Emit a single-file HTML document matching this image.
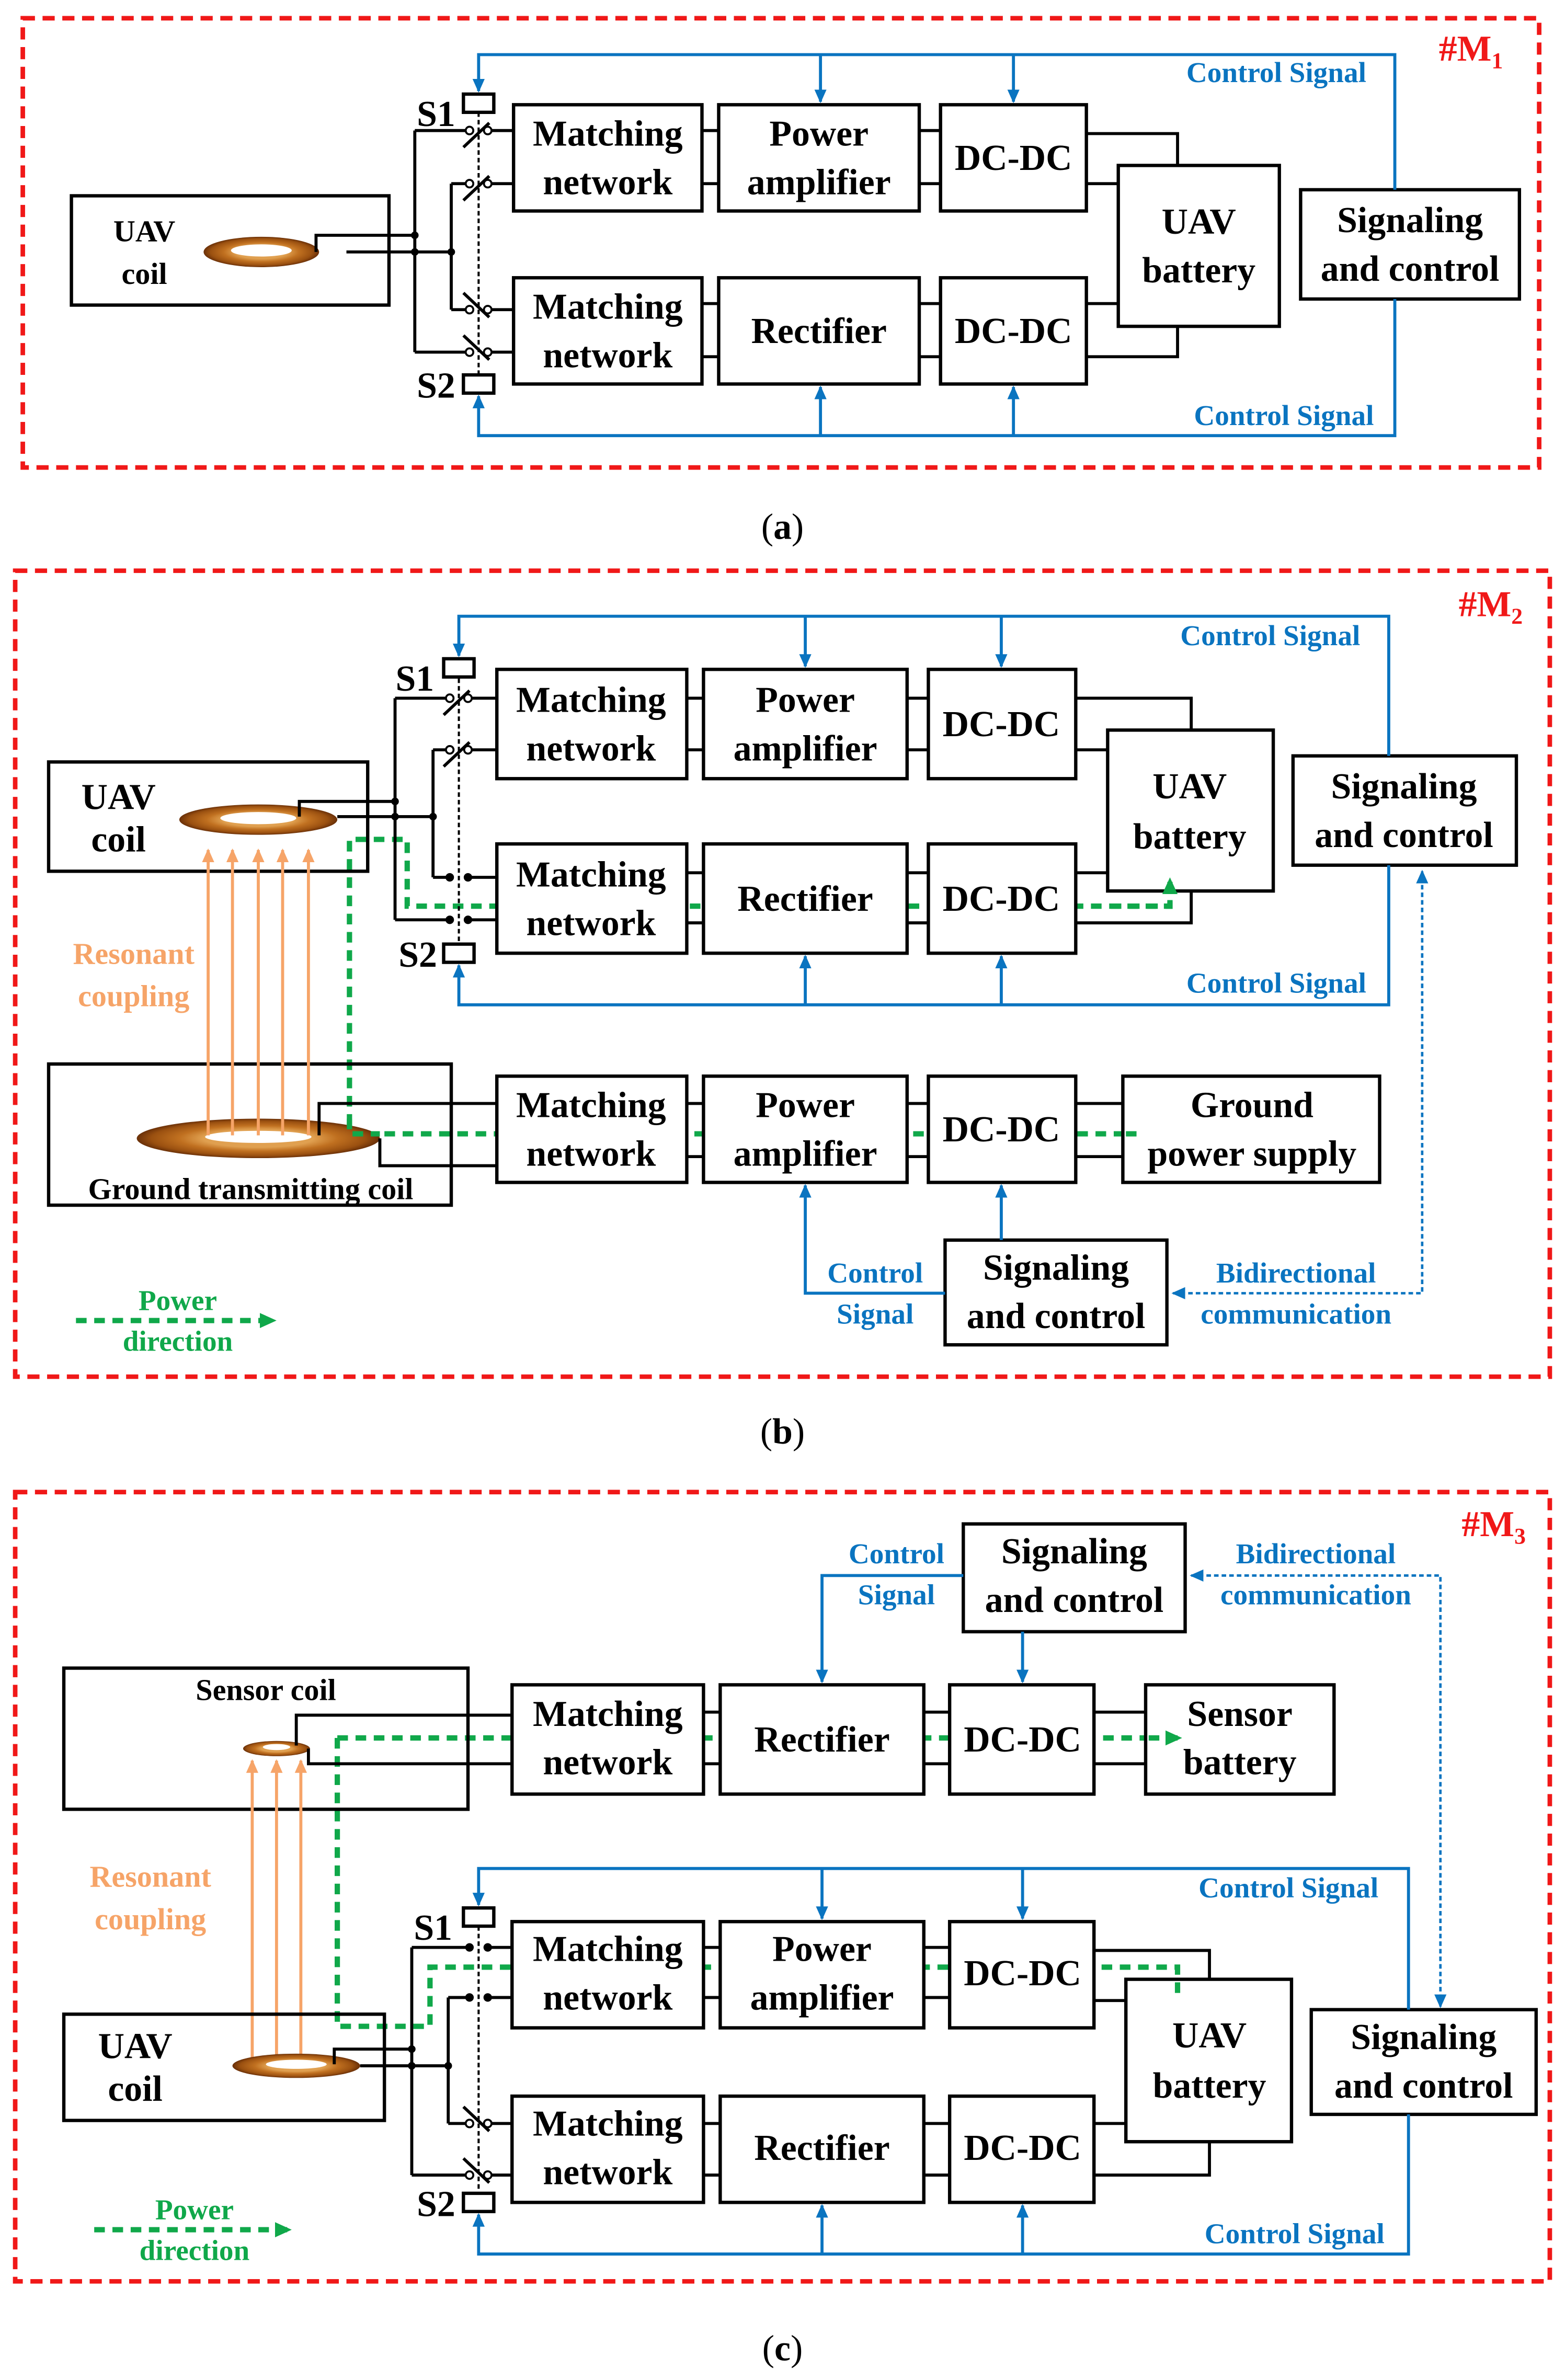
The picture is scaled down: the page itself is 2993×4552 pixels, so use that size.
<!DOCTYPE html>
<html><head><meta charset="utf-8"><style>
html,body{margin:0;padding:0;background:#fff;}
svg{display:block;}
.b{fill:#fff;stroke:#000;stroke-width:2.2;}
.bn{fill:none;stroke:#000;stroke-width:2.2;}
.w{fill:none;stroke:#000;stroke-width:2;}
.bl{fill:none;stroke:#0a74c0;stroke-width:2;}
.bd{fill:none;stroke:#0a74c0;stroke-width:1.6;stroke-dasharray:3 2;}
.gr{fill:none;stroke:#10a84a;stroke-width:3.5;stroke-dasharray:7 5;}
.or{fill:none;stroke:#f6a468;stroke-width:2;}
.red{fill:none;stroke:#f01818;stroke-width:3;stroke-dasharray:8 5;}
.sw{fill:none;stroke:#000;stroke-width:1.4;stroke-dasharray:3 2;}
text{font-family:"Liberation Serif",serif;font-weight:bold;}
.t{font-size:24px;fill:#000;text-anchor:middle;}
.ts{font-size:20px;fill:#000;text-anchor:middle;}
.tb{font-size:19px;fill:#0a74c0;text-anchor:middle;}
.to{font-size:20px;fill:#f6a468;text-anchor:middle;}
.tg{font-size:19px;fill:#10a84a;text-anchor:middle;}
.tr{font-size:24px;fill:#f01818;}
.cap{font-size:24px;font-weight:normal;fill:#000;text-anchor:middle;}
</style></head><body>
<svg width="2993" height="4552" viewBox="0 0 1030 1568" preserveAspectRatio="none" xmlns="http://www.w3.org/2000/svg">
<defs>
<marker id="ab" markerWidth="10" markerHeight="10" refX="8" refY="5" orient="auto" markerUnits="userSpaceOnUse"><path d="M0,1 L9,5 L0,9 Z" fill="#0a74c0"/></marker>
<marker id="ab2" markerWidth="10" markerHeight="10" refX="1" refY="5" orient="auto" markerUnits="userSpaceOnUse"><path d="M9,1 L0,5 L9,9 Z" fill="#0a74c0"/></marker>
<marker id="ao" markerWidth="10" markerHeight="10" refX="8" refY="5" orient="auto" markerUnits="userSpaceOnUse"><path d="M0,1 L9,5 L0,9 Z" fill="#f6a468"/></marker>
<marker id="ag" markerWidth="12" markerHeight="12" refX="9" refY="6" orient="auto" markerUnits="userSpaceOnUse"><path d="M0,1 L11,6 L0,11 Z" fill="#10a84a"/></marker>
<radialGradient id="cg" cx="50%" cy="50%" r="50%"><stop offset="45%" stop-color="#e0a050"/><stop offset="65%" stop-color="#c07020"/><stop offset="88%" stop-color="#9a5010"/><stop offset="100%" stop-color="#6a3008"/></radialGradient>
</defs>

<!-- ================= (a) ================= -->
<rect class="red" x="15" y="12" width="998" height="296"/>
<text class="tr" x="947" y="40">#M<tspan font-size="15" dy="5">1</tspan></text>
<rect class="b" x="47" y="129" width="209" height="72"/>
<text class="ts" x="95" y="159">UAV</text><text class="ts" x="95" y="187">coil</text>
<ellipse cx="172" cy="166" rx="38" ry="10" fill="url(#cg)"/><ellipse cx="172" cy="165" rx="20" ry="4" fill="#fff"/>
<path class="w" d="M208,166 V155 H273 M228,166 H297 M273,86 V232 M297,121 V204"/>
<circle cx="273" cy="155" r="2.5"/><circle cx="297" cy="166" r="2.5"/><circle cx="273" cy="166" r="2.5"/>
<path class="w" d="M273,86 H309 M321,86 H338 M297,121 H309 M321,121 H338 M297,204 H309 M321,204 H338 M273,232 H309 M321,232 H338"/>
<g fill="#fff" stroke="#000" stroke-width="1.3"><circle cx="309" cy="86" r="2.5"/><circle cx="321" cy="86" r="2.5"/><circle cx="309" cy="121" r="2.5"/><circle cx="321" cy="121" r="2.5"/><circle cx="309" cy="204" r="2.5"/><circle cx="321" cy="204" r="2.5"/><circle cx="309" cy="232" r="2.5"/><circle cx="321" cy="232" r="2.5"/></g>
<path class="w" d="M305,97 L322,81 M305,132 L322,116 M305,193 L322,209 M305,221 L322,237"/>
<path class="sw" d="M315,74 V247"/>
<rect class="b" x="305" y="62" width="20" height="12"/><rect class="b" x="305" y="247" width="20" height="12"/>
<text class="t" x="287" y="83">S1</text><text class="t" x="287" y="262">S2</text>
<rect class="b" x="338" y="69" width="124" height="70"/><text class="t" x="400" y="96">Matching</text><text class="t" x="400" y="128">network</text>
<rect class="b" x="473" y="69" width="132" height="70"/><text class="t" x="539" y="96">Power</text><text class="t" x="539" y="128">amplifier</text>
<rect class="b" x="619" y="69" width="96" height="70"/><text class="t" x="667" y="112">DC-DC</text>
<rect class="b" x="338" y="183" width="124" height="70"/><text class="t" x="400" y="210">Matching</text><text class="t" x="400" y="242">network</text>
<rect class="b" x="473" y="183" width="132" height="70"/><text class="t" x="539" y="226">Rectifier</text>
<rect class="b" x="619" y="183" width="96" height="70"/><text class="t" x="667" y="226">DC-DC</text>
<path class="w" d="M462,86 H473 M462,121 H473 M605,86 H619 M605,121 H619 M462,200 H473 M462,235 H473 M605,200 H619 M605,235 H619 M715,88 H775 V109 M715,121 H736 M715,200 H736 M715,235 H775 V215"/>
<rect class="b" x="736" y="109" width="106" height="106"/><text class="t" x="789" y="154">UAV</text><text class="t" x="789" y="186">battery</text>
<rect class="b" x="856" y="125" width="144" height="72"/><text class="t" x="928" y="153">Signaling</text><text class="t" x="928" y="185">and control</text>
<path class="bl" d="M918,125 V36 H315 V60" marker-end="url(#ab)"/>
<path class="bl" d="M540,36 V67" marker-end="url(#ab)"/><path class="bl" d="M667,36 V67" marker-end="url(#ab)"/>
<path class="bl" d="M918,197 V287 H315 V261" marker-end="url(#ab)"/>
<path class="bl" d="M540,287 V255" marker-end="url(#ab)"/><path class="bl" d="M667,287 V255" marker-end="url(#ab)"/>
<text class="tb" x="840" y="54">Control Signal</text><text class="tb" x="845" y="280">Control Signal</text>
<text class="cap" x="515" y="355">(<tspan font-weight="bold">a</tspan>)</text>

<!-- ================= (b) ================= -->
<rect class="red" x="10" y="376" width="1010" height="531"/>
<text class="tr" x="960" y="406">#M<tspan font-size="15" dy="5">2</tspan></text>
<path class="gr" d="M752,747 H230 V553 H268 V597 H770 V580" marker-end="url(#ag)"/>
<rect class="bn" x="32" y="502" width="210" height="72"/>
<text class="t" x="78" y="533">UAV</text><text class="t" x="78" y="561">coil</text>
<ellipse cx="170" cy="540" rx="52" ry="10" fill="url(#cg)"/><ellipse cx="170" cy="539" rx="25" ry="4" fill="#fff"/>
<path class="w" d="M197,538 V528 H260 M222,538 H285 M260,460 V606 M285,494 V578"/>
<circle cx="260" cy="528" r="2.5"/><circle cx="285" cy="538" r="2.5"/><circle cx="260" cy="538" r="2.5"/>
<path class="w" d="M260,460 H296 M308,460 H327 M285,494 H296 M308,494 H327 M285,578 H296 M308,578 H327 M260,606 H296 M308,606 H327"/>
<g fill="#fff" stroke="#000" stroke-width="1.3"><circle cx="296" cy="460" r="2.5"/><circle cx="308" cy="460" r="2.5"/><circle cx="296" cy="494" r="2.5"/><circle cx="308" cy="494" r="2.5"/></g>
<g fill="#000"><circle cx="296" cy="578" r="2.8"/><circle cx="308" cy="578" r="2.8"/><circle cx="296" cy="606" r="2.8"/><circle cx="308" cy="606" r="2.8"/></g>
<path class="w" d="M292,471 L309,455 M292,505 L309,489"/>
<path class="sw" d="M302,447 V622"/>
<rect class="b" x="292" y="434" width="20" height="12"/><rect class="b" x="292" y="622" width="20" height="12"/>
<text class="t" x="273" y="455">S1</text><text class="t" x="275" y="637">S2</text>
<rect class="b" x="327" y="441" width="125" height="72"/><text class="t" x="389" y="469">Matching</text><text class="t" x="389" y="501">network</text>
<rect class="b" x="463" y="441" width="134" height="72"/><text class="t" x="530" y="469">Power</text><text class="t" x="530" y="501">amplifier</text>
<rect class="b" x="611" y="441" width="97" height="72"/><text class="t" x="659" y="485">DC-DC</text>
<rect class="b" x="327" y="556" width="125" height="72"/><text class="t" x="389" y="584">Matching</text><text class="t" x="389" y="616">network</text>
<rect class="b" x="463" y="556" width="134" height="72"/><text class="t" x="530" y="600">Rectifier</text>
<rect class="b" x="611" y="556" width="97" height="72"/><text class="t" x="659" y="600">DC-DC</text>
<path class="w" d="M452,460 H463 M452,494 H463 M597,460 H611 M597,494 H611 M452,575 H463 M452,608 H463 M597,575 H611 M597,608 H611 M708,460 H784 V481 M708,494 H729 M708,575 H729 M708,608 H784 V587"/>
<rect class="b" x="729" y="481" width="109" height="106"/><text class="t" x="783" y="526">UAV</text><text class="t" x="783" y="559">battery</text>
<path class="gr" d="M731,597 H770 V580" marker-end="url(#ag)"/>
<rect class="b" x="851" y="498" width="147" height="72"/><text class="t" x="924" y="526">Signaling</text><text class="t" x="924" y="558">and control</text>
<path class="bl" d="M914,498 V406 H302 V432" marker-end="url(#ab)"/>
<path class="bl" d="M530,406 V439" marker-end="url(#ab)"/><path class="bl" d="M659,406 V439" marker-end="url(#ab)"/>
<path class="bl" d="M914,570 V662 H302 V636" marker-end="url(#ab)"/>
<path class="bl" d="M530,662 V630" marker-end="url(#ab)"/><path class="bl" d="M659,662 V630" marker-end="url(#ab)"/>
<text class="tb" x="836" y="425">Control Signal</text><text class="tb" x="840" y="654">Control Signal</text>
<!-- ground -->
<rect class="bn" x="32" y="701" width="265" height="93"/>
<ellipse cx="170" cy="750" rx="80" ry="13" fill="url(#cg)"/><ellipse cx="170" cy="749" rx="35" ry="4" fill="#fff"/>
<path class="gr" d="M230,737 V747 H250"/>
<text class="ts" x="165" y="790">Ground transmitting coil</text>
<path class="w" d="M210,748 V727 H327 M250,750 V768 H327"/>
<g class="or"><path d="M137,748 V560" marker-end="url(#ao)"/><path d="M153,748 V560" marker-end="url(#ao)"/><path d="M170,748 V560" marker-end="url(#ao)"/><path d="M186,748 V560" marker-end="url(#ao)"/><path d="M203,748 V560" marker-end="url(#ao)"/></g>
<text class="to" x="88" y="635">Resonant</text><text class="to" x="88" y="663">coupling</text>
<rect class="b" x="327" y="709" width="125" height="70"/><text class="t" x="389" y="736">Matching</text><text class="t" x="389" y="768">network</text>
<rect class="b" x="463" y="709" width="134" height="70"/><text class="t" x="530" y="736">Power</text><text class="t" x="530" y="768">amplifier</text>
<rect class="b" x="611" y="709" width="97" height="70"/><text class="t" x="659" y="752">DC-DC</text>
<rect class="b" x="739" y="709" width="169" height="70"/><text class="t" x="824" y="736">Ground</text><text class="t" x="824" y="768">power supply</text>
<path class="gr" d="M741,747 H752"/>
<path class="w" d="M452,727 H463 M452,762 H463 M597,727 H611 M597,762 H611 M708,727 H739 M708,762 H739"/>
<rect class="b" x="622" y="817" width="146" height="69"/><text class="t" x="695" y="843">Signaling</text><text class="t" x="695" y="875">and control</text>
<path class="bl" d="M659,817 V781" marker-end="url(#ab)"/>
<path class="bl" d="M622,852 H530 V781" marker-end="url(#ab)"/>
<text class="tb" x="576" y="845">Control</text><text class="tb" x="576" y="872">Signal</text>
<path class="bd" d="M772,852 H936 V574" marker-start="url(#ab2)" marker-end="url(#ab)"/>
<text class="tb" x="853" y="845">Bidirectional</text><text class="tb" x="853" y="872">communication</text>
<path class="gr" d="M50,870 H180" marker-end="url(#ag)"/>
<text class="tg" x="117" y="863">Power</text><text class="tg" x="117" y="890">direction</text>
<text class="cap" x="515" y="951">(<tspan font-weight="bold">b</tspan>)</text>

<!-- ================= (c) ================= -->
<rect class="red" x="10" y="983" width="1010" height="520"/>
<text class="tr" x="962" y="1012">#M<tspan font-size="15" dy="5">3</tspan></text>
<path class="gr" d="M222,1145 H776" marker-end="url(#ag)"/>
<path class="gr" d="M222,1145 V1335 H283 V1296 H775 V1312"/>
<rect class="b" x="634" y="1004" width="146" height="71"/><text class="t" x="707" y="1030">Signaling</text><text class="t" x="707" y="1062">and control</text>
<path class="bl" d="M634,1038 H541 V1108" marker-end="url(#ab)"/>
<path class="bl" d="M673,1075 V1108" marker-end="url(#ab)"/>
<text class="tb" x="590" y="1030">Control</text><text class="tb" x="590" y="1057">Signal</text>
<path class="bd" d="M784,1038 H948 V1322" marker-start="url(#ab2)" marker-end="url(#ab)"/>
<text class="tb" x="866" y="1030">Bidirectional</text><text class="tb" x="866" y="1057">communication</text>
<rect class="bn" x="42" y="1099" width="266" height="93"/>
<text class="ts" x="175" y="1120">Sensor coil</text>
<ellipse cx="182" cy="1152" rx="22" ry="5" fill="url(#cg)"/><ellipse cx="182" cy="1151" rx="9" ry="2" fill="#fff"/>
<path class="w" d="M195,1150 V1130 H337 M203,1152 V1162 H337"/>
<rect class="b" x="337" y="1110" width="126" height="72"/><text class="t" x="400" y="1137">Matching</text><text class="t" x="400" y="1169">network</text>
<rect class="b" x="474" y="1110" width="134" height="72"/><text class="t" x="541" y="1154">Rectifier</text>
<rect class="b" x="625" y="1110" width="95" height="72"/><text class="t" x="673" y="1154">DC-DC</text>
<rect class="b" x="754" y="1110" width="124" height="72"/><text class="t" x="816" y="1137">Sensor</text><text class="t" x="816" y="1169">battery</text>
<path class="gr" d="M756,1145 H776" marker-end="url(#ag)"/>
<path class="w" d="M463,1128 H474 M463,1162 H474 M608,1128 H625 M608,1162 H625 M720,1128 H754 M720,1162 H754"/>
<g class="or"><path d="M166,1360 V1160" marker-end="url(#ao)"/><path d="M182,1360 V1160" marker-end="url(#ao)"/><path d="M198,1360 V1160" marker-end="url(#ao)"/></g>
<text class="to" x="99" y="1243">Resonant</text><text class="to" x="99" y="1271">coupling</text>
<rect class="bn" x="42" y="1327" width="211" height="70"/>
<text class="t" x="89" y="1356">UAV</text><text class="t" x="89" y="1384">coil</text>
<ellipse cx="195" cy="1361" rx="42" ry="8" fill="url(#cg)"/><ellipse cx="195" cy="1360" rx="20" ry="3" fill="#fff"/>
<path class="w" d="M220,1360 V1350 H271 M237,1361 H295 M271,1283 V1433 M295,1316 V1399"/>
<circle cx="271" cy="1350" r="2.5"/><circle cx="295" cy="1361" r="2.5"/><circle cx="271" cy="1361" r="2.5"/>
<path class="w" d="M271,1283 H309 M321,1283 H337 M295,1316 H309 M321,1316 H337 M295,1399 H309 M321,1399 H337 M271,1433 H309 M321,1433 H337"/>
<g fill="#000"><circle cx="309" cy="1283" r="2.8"/><circle cx="321" cy="1283" r="2.8"/><circle cx="309" cy="1316" r="2.8"/><circle cx="321" cy="1316" r="2.8"/></g>
<g fill="#fff" stroke="#000" stroke-width="1.3"><circle cx="309" cy="1399" r="2.5"/><circle cx="321" cy="1399" r="2.5"/><circle cx="309" cy="1433" r="2.5"/><circle cx="321" cy="1433" r="2.5"/></g>
<path class="w" d="M305,1388 L322,1404 M305,1422 L322,1438"/>
<path class="sw" d="M315,1269 V1445"/>
<rect class="b" x="305" y="1257" width="20" height="12"/><rect class="b" x="305" y="1445" width="20" height="12"/>
<text class="t" x="285" y="1278">S1</text><text class="t" x="287" y="1460">S2</text>
<rect class="b" x="337" y="1266" width="126" height="70"/><text class="t" x="400" y="1292">Matching</text><text class="t" x="400" y="1324">network</text>
<rect class="b" x="474" y="1266" width="134" height="70"/><text class="t" x="541" y="1292">Power</text><text class="t" x="541" y="1324">amplifier</text>
<rect class="b" x="625" y="1266" width="95" height="70"/><text class="t" x="673" y="1308">DC-DC</text>
<rect class="b" x="337" y="1381" width="126" height="70"/><text class="t" x="400" y="1407">Matching</text><text class="t" x="400" y="1439">network</text>
<rect class="b" x="474" y="1381" width="134" height="70"/><text class="t" x="541" y="1423">Rectifier</text>
<rect class="b" x="625" y="1381" width="95" height="70"/><text class="t" x="673" y="1423">DC-DC</text>
<path class="w" d="M463,1283 H474 M463,1316 H474 M608,1283 H625 M608,1316 H625 M463,1399 H474 M463,1433 H474 M608,1399 H625 M608,1433 H625 M720,1285 H796 V1304 M720,1318 H741 M720,1399 H741 M720,1433 H796 V1411"/>
<rect class="b" x="741" y="1304" width="109" height="107"/><text class="t" x="796" y="1349">UAV</text><text class="t" x="796" y="1382">battery</text>
<path class="gr" d="M775,1306 V1314"/>
<rect class="b" x="863" y="1324" width="148" height="69"/><text class="t" x="937" y="1350">Signaling</text><text class="t" x="937" y="1382">and control</text>
<path class="bl" d="M927,1324 V1231 H315 V1255" marker-end="url(#ab)"/>
<path class="bl" d="M541,1231 V1264" marker-end="url(#ab)"/><path class="bl" d="M673,1231 V1264" marker-end="url(#ab)"/>
<path class="bl" d="M927,1393 V1485 H315 V1459" marker-end="url(#ab)"/>
<path class="bl" d="M541,1485 V1453" marker-end="url(#ab)"/><path class="bl" d="M673,1485 V1453" marker-end="url(#ab)"/>
<text class="tb" x="848" y="1250">Control Signal</text><text class="tb" x="852" y="1478">Control Signal</text>
<path class="gr" d="M62,1469 H190" marker-end="url(#ag)"/>
<text class="tg" x="128" y="1462">Power</text><text class="tg" x="128" y="1489">direction</text>
<text class="cap" x="515" y="1555">(<tspan font-weight="bold">c</tspan>)</text>
</svg>
</body></html>
